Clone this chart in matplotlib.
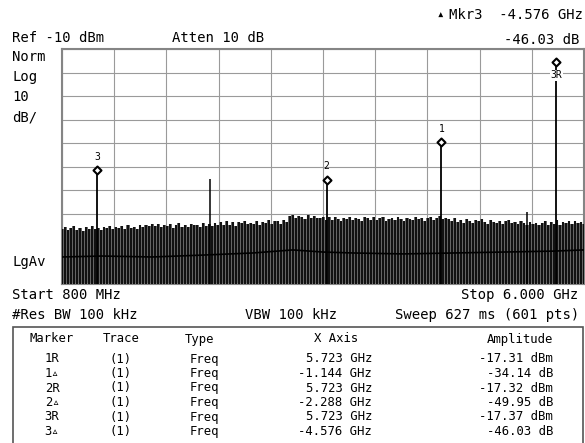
import matplotlib
matplotlib.use("Agg")
import matplotlib.pyplot as plt
import numpy as np
from matplotlib.path import Path
from matplotlib.patches import Rectangle

plt.rcParams['font.family'] = ['DejaVu Sans Mono', 'DejaVu Sans']

# analyzer settings
ref_level = -10.0
db_per_div = 10
start_ghz = 0.8
stop_ghz = 6.0

# marker table
mkr_names = ["1R", "1\u25b5", "2R", "2\u25b5", "3R", "3\u25b5"]
mkr_trace = ["(1)", "(1)", "(1)", "(1)", "(1)", "(1)"]
mkr_type = ["Freq", "Freq", "Freq", "Freq", "Freq", "Freq"]
mkr_x = [5.723, -1.144, 5.723, -2.288, 5.723, -4.576]
mkr_amp = [-17.31, -34.14, -17.32, -49.95, -17.37, -46.03]
mkr_unit = ["dBm", "dB", "dBm", "dB", "dBm", "dB"]

# noise floor: top of each sweep stroke (dBm), left to right
floor_tops = [
    -86.5, -85.8, -87.0, -86.2, -85.5, -86.9, -86.0, -87.3, -85.9, -86.4,
    -85.2, -86.8, -86.1, -87.0, -85.6, -86.3, -85.4, -86.7, -85.9, -86.2,
    -85.3, -86.5, -85.0, -86.0, -85.7, -86.4, -85.1, -85.8, -84.9,
    -85.2, -84.6, -85.5, -84.3, -85.8, -84.9, -85.3, -84.5, -86.0, -85.1,
    -84.2, -85.6, -84.8, -85.9, -84.4, -85.0, -84.7, -85.7, -84.1, -85.2,
    -84.6, -85.4,
    -84.0, -85.1, -83.6, -84.7, -83.2, -84.9, -83.8, -85.3, -83.5, -84.2,
    -83.0, -84.6, -83.9, -84.4, -83.3, -84.8, -83.7, -84.1, -82.9, -84.5,
    -83.4, -83.1, -84.3, -82.8, -83.6,
    -81.2, -80.6, -82.0, -80.9, -81.5, -82.3, -80.7, -81.8, -81.0, -82.1,
    -82.0, -81.3, -82.6, -81.7, -82.9, -81.5, -82.2, -83.0, -81.9, -82.4,
    -81.4, -82.8, -81.8, -82.5, -83.2, -81.6, -82.1, -82.7, -81.3, -82.9,
    -82.0, -81.7, -83.1, -82.3, -81.9, -82.6, -81.5, -82.4, -83.0, -81.8,
    -82.2, -82.8, -81.4, -82.5, -81.9, -83.3, -82.1, -81.6, -82.7, -82.0,
    -81.2, -82.4, -81.8,
    -82.3, -83.1, -82.0, -83.5, -82.6, -83.9, -82.4, -83.2, -84.0, -82.8,
    -83.4, -82.2, -83.7, -84.3, -82.9, -83.6, -84.1, -83.0, -84.5, -83.3,
    -82.7, -84.2, -83.8, -84.6, -83.1, -84.0, -84.8, -83.5, -84.4, -83.9,
    -85.0, -84.1, -83.2, -84.7, -83.6, -84.3, -82.8, -84.9, -83.7, -84.2,
    -83.4, -84.6, -83.0, -84.0, -83.5, -84.4,
]

# averaged trace through the floor
avg_ghz = [0.8, 1.2, 1.7, 2.2, 2.7, 3.1, 3.4, 3.7, 4.2, 4.7, 5.2, 5.7, 6.0]
avg_db = [-98.5, -98.1, -98.5, -97.7, -96.8, -95.5, -96.4, -96.8, -97.2,
          -96.8, -96.4, -96.0, -95.5]

# spurs without markers
spur_ghz = [2.276, 5.435]
spur_db = [-65.3, -79.4]

W, H = 585, 443
fig = plt.figure(figsize=(W / 100, H / 100), dpi=100)
fig.patch.set_facecolor('white')

gx0, gx1, gy0, gy1 = 62, 584, 49, 284
ax = fig.add_axes([gx0 / W, 1 - gy1 / H, (gx1 - gx0) / W, (gy1 - gy0) / H])
bottom = ref_level - 10 * db_per_div
ax.set_xlim(start_ghz, stop_ghz)
ax.set_ylim(bottom, ref_level)
ax.set_xticks(np.linspace(start_ghz, stop_ghz, 11))
ax.set_yticks(np.linspace(bottom, ref_level, 11))
ax.tick_params(length=0, labelbottom=False, labelleft=False)
ax.grid(True, color='#9a9a9a', lw=0.8)
ax.set_axisbelow(True)
for sp in ax.spines.values():
    sp.set_color('#858585')
    sp.set_linewidth(1.5)

# sweep strokes
f = np.linspace(start_ghz, stop_ghz, len(floor_tops))
ax.fill_between(f, bottom, floor_tops, step='mid', color='#6c6c6c', lw=0, zorder=2)
ax.vlines(f, bottom, floor_tops, color='#111111', lw=1.5, zorder=3)
ax.plot(avg_ghz, avg_db, color='black', lw=1.2, zorder=4)

ax.vlines(spur_ghz, bottom, spur_db, color='black', lw=1.1, zorder=4)

# markers: delta markers relative to reference marker
ref_f, ref_a = mkr_x[4], mkr_amp[4]
peak_f = [ref_f]
peak_a = [ref_a]
peak_lbl = []
for i in range(3):
    peak_f.append(mkr_x[2 * i] + mkr_x[2 * i + 1])
    peak_a.append(mkr_amp[2 * i] + mkr_amp[2 * i + 1])
    peak_lbl.append(str(i + 1))
ax.vlines(peak_f, bottom, peak_a, color='black', lw=1.3, zorder=4)

diamond = Path([(0, 0), (0.5, 0.5), (0, 1), (-0.5, 0.5), (0, 0)],
               [Path.MOVETO, Path.LINETO, Path.LINETO, Path.LINETO, Path.CLOSEPOLY])
ax.plot(peak_f, peak_a, ls='none', marker=diamond, ms=11.5, mfc='white',
        mec='black', mew=1.5, zorder=5, clip_on=False)
for fx, ay, lb in zip(peak_f[1:], peak_a[1:], peak_lbl):
    ax.annotate(lb, (fx, ay), xytext=(0, 12.5), textcoords='offset points',
                ha='center', va='center', fontsize=7)
ax.annotate("3R", (peak_f[0], peak_a[0]), xytext=(0, -6.5),
            textcoords='offset points', ha='center', va='center', fontsize=7,
            bbox=dict(boxstyle='square,pad=0.05', fc='white', ec='none'), zorder=6)


def put(x, y, s, ha='left', size=10, **kw):
    fig.text(x / W, 1 - y / H, s, ha=ha, va='center', fontsize=size, **kw)


put(12, 38, "Ref -10 dBm")
put(172, 38, "Atten 10 dB")
put(440, 15, "\u25b4", ha='center', size=9)
put(583, 15, "Mkr3  -4.576 GHz", ha='right')
put(579, 40, "-46.03 dB", ha='right')
for yy, s in zip([57, 77, 97, 117], ["Norm", "Log", "10", "dB/"]):
    put(12, yy, s)
put(12, 262, "LgAv")
put(12, 295, "Start 800 MHz")
put(578, 295, "Stop 6.000 GHz", ha='right')
put(12, 315, "#Res BW 100 kHz")
put(245, 315, "VBW 100 kHz")
put(579, 315, "Sweep 627 ms (601 pts)", ha='right')

# marker table
fig.add_artist(Rectangle((13 / W, -0.05), (583 - 13) / W, 1 - 327 / H + 0.05,
                         transform=fig.transFigure, fill=False, ec='#555555', lw=1.2))
ts = 8.8
put(52, 339, "Marker", ha='center', size=ts)
put(121, 339, "Trace", ha='center', size=ts)
put(185, 339, "Type", size=ts)
put(336, 339, "X Axis", ha='center', size=ts)
put(553, 339, "Amplitude", ha='right', size=ts)
for i in range(len(mkr_names)):
    yy = 359 + 14.5 * i
    put(52, yy, mkr_names[i], ha='center', size=ts)
    put(121, yy, mkr_trace[i], ha='center', size=ts)
    put(190, yy, mkr_type[i], size=ts)
    put(372, yy, f"{mkr_x[i]:.3f} GHz", ha='right', size=ts)
    put(553, yy, f"{mkr_amp[i]:.2f} {mkr_unit[i]}", ha='right', size=ts)

fig.savefig("out.png", dpi=100)
